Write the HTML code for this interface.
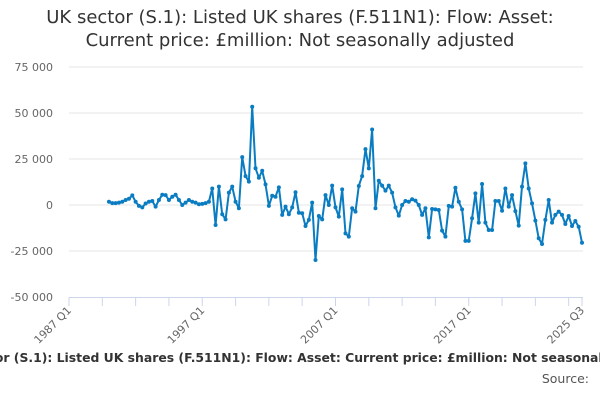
<!DOCTYPE html>
<html><head><meta charset="utf-8"><style>
body{margin:0;width:600px;height:400px;overflow:hidden;background:#fff;font-family:"DejaVu Sans",sans-serif;position:relative}
#title{position:absolute;top:6px;left:0;width:600px;text-align:center;font-size:18px;line-height:23px;color:#333}
#xclip{position:absolute;top:350px;left:0;width:600px;height:18px;overflow:hidden}
#xtitle{position:absolute;top:0;left:311px;transform:translateX(-50%);white-space:nowrap;font-size:12.4px;font-weight:bold;color:#333}
#source{position:absolute;top:371px;right:11px;font-size:12.5px;color:#555}
svg{position:absolute;left:0;top:0}
</style></head><body>
<div id="title">UK sector (S.1): Listed UK shares (F.511N1): Flow: Asset:<br>Current price: £million: Not seasonally adjusted</div>
<svg id="chart" width="600" height="400"></svg>
<div id="xclip"><div id="xtitle">UK sector (S.1): Listed UK shares (F.511N1): Flow: Asset: Current price: £million: Not seasonally adjusted</div></div>
<div id="source">Source:</div>
<script>
const yTicks=[75000,50000,25000,0,-25000,-50000];
const yTickLabels=["75 000","50 000","25 000","0","-25 000","-50 000"];
const xTickLabels=["1987 Q1","1997 Q1","2007 Q1","2017 Q1","2025 Q3"];
const xTickQuarters=[0,40,80,120,154];
const startQuarter=12;
const values=[1.8,1.0,1.0,1.3,1.8,2.7,3.4,5.2,1.8,-0.5,-1.3,0.8,1.8,2.2,-0.9,2.7,5.6,5.4,2.7,4.5,5.6,2.7,0,1.3,2.7,1.8,1.3,0.4,0.6,1.0,1.8,
9,-10.9,10,-5,-7.8,6.7,10,1.8,-1.8,26,15.7,12.7,53.4,20,14.8,18.6,11.2,-0.5,5,4.5,9.6,-5.4,-0.9,-5,-1.3,6.9,-4.2,-4.5,-11.4,
-8.1,1.3,-29.9,-6,-7.8,5.4,0,10.5,-1.3,-6.3,8.5,-15.4,-17.2,-1.8,-3.6,10.3,15.7,30.4,19.9,41,-1.8,13.2,10.5,7.8,10.5,6.7,
-1.3,-5.8,0,2.2,1.8,3.1,2.4,0,-5.4,-1.8,-17.6,-2.2,-2.4,-2.7,-13.9,-17.2,-0.5,-0.9,9.4,1.8,-2.4,-19.5,-19.5,-7.2,6.3,-9.6,11.4,-9.6,
-13.6,-13.6,2.2,2.2,-3.1,9,-0.9,5.4,-3.3,-11.2,10,22.6,9,0.9,-8.5,-18.1,-21.2,-8.1,2.7,-9.6,-5.4,-3.6,-5.4,-10.3,-6,-11.4,-8.7,-11.8,-20.5];
const NS="http://www.w3.org/2000/svg";
const svg=document.getElementById('chart');
const x=q=>69+q*(513/154);
const y=v=>205-v/25000*46;
function mk(t,a){const e=document.createElementNS(NS,t);for(const k in a)e.setAttribute(k,a[k]);svg.appendChild(e);return e;}
yTicks.forEach((v,i)=>{
  if(v!==-50000){const g=mk('line',{x1:69,x2:583,y1:y(v),y2:y(v),stroke:'#e6e6e6','stroke-width':1});
  
  }
  const t=mk('text',{x:53,y:y(v)+4,'text-anchor':'end','font-size':11,fill:'#666','font-family':'DejaVu Sans, sans-serif'});
  t.textContent=yTickLabels[i];
  
  
});
const ax=mk('line',{x1:69,x2:583,y1:297.5,y2:297.5,stroke:'#ccd6eb','stroke-width':1});


for(let q=0;q<=154;q+=10){
  const tk=mk('line',{x1:x(q),x2:x(q),y1:297,y2:306,stroke:'#ccd6eb','stroke-width':1});
  
  
}
const lt=mk('line',{x1:x(154),x2:x(154),y1:297,y2:306,stroke:'#ccd6eb','stroke-width':1});


xTickQuarters.forEach((q,i)=>{
  const px=x(q);
  const t=mk('text',{x:px+3,y:311,'text-anchor':'end','font-size':11,fill:'#666','font-family':'DejaVu Sans, sans-serif',transform:`rotate(-45 ${px+3} 311)`});
  t.textContent=xTickLabels[i];
  
  
});
const pts=values.map((v,i)=>[x(startQuarter+i),y(v*1000)]);
const line=mk('path',{d:'M'+pts.map(p=>p[0].toFixed(1)+','+p[1].toFixed(1)).join('L'),fill:'none',stroke:'#0a7cc1','stroke-width':2,'stroke-linejoin':'round'});


pts.forEach(p=>{
  const c=mk('circle',{cx:p[0],cy:p[1],r:2,fill:'#0a7cc1'});
  
  
});
</script>
</body></html>
